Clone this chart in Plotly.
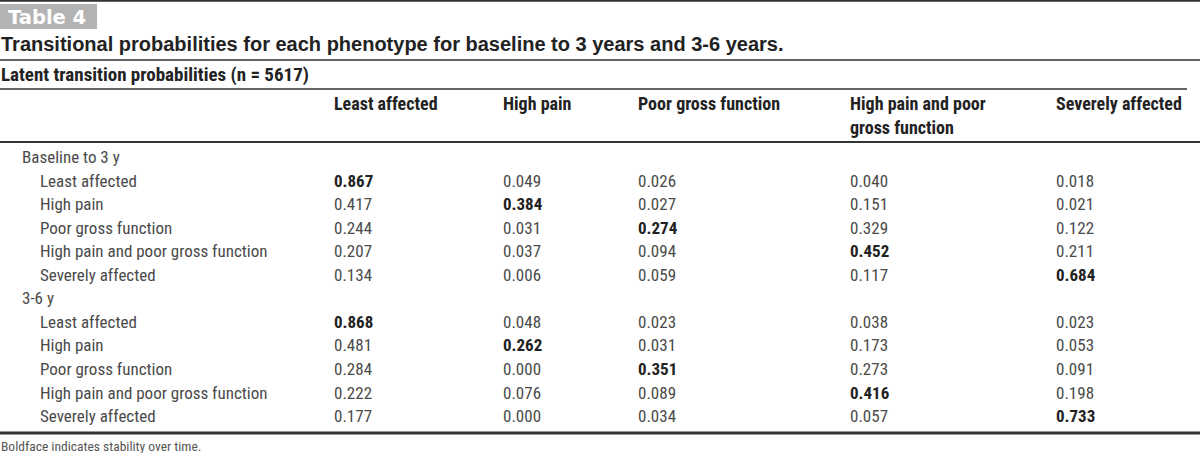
import plotly.graph_objects as go

# ---- data ----
columns = ["Least affected", "High pain", "Poor gross function",
           ["High pain and poor", "gross function"], "Severely affected"]
groups = ["Baseline to 3 y", "3-6 y"]
phenotypes = ["Least affected", "High pain", "Poor gross function",
              "High pain and poor gross function", "Severely affected"]
baseline_to_3y = [
    [0.867, 0.049, 0.026, 0.040, 0.018],
    [0.417, 0.384, 0.027, 0.151, 0.021],
    [0.244, 0.031, 0.274, 0.329, 0.122],
    [0.207, 0.037, 0.094, 0.452, 0.211],
    [0.134, 0.006, 0.059, 0.117, 0.684],
]
three_to_6y = [
    [0.868, 0.048, 0.023, 0.038, 0.023],
    [0.481, 0.262, 0.031, 0.173, 0.053],
    [0.284, 0.000, 0.351, 0.273, 0.091],
    [0.222, 0.076, 0.089, 0.416, 0.198],
    [0.177, 0.000, 0.034, 0.057, 0.733],
]
table_label = "Table 4"
title = "Transitional probabilities for each phenotype for baseline to 3 years and 3-6 years."
subtitle = "Latent transition probabilities (n = 5617)"
footnote = "Boldface indicates stability over time."

# ---- layout/style ----
W, H = 1200, 453
NARROW = "Liberation Sans Narrow, Arial Narrow, Roboto Condensed, DejaVu Sans Condensed, sans-serif"
WIDE = "DejaVu Sans, Liberation Sans, Arial, sans-serif"
HELV = "Liberation Sans, Arial, Helvetica, sans-serif"
BODY = "#4a4a4a"
DARK = "#222222"
col_x = [334, 503, 638, 850, 1056]

fig = go.Figure()
fig.add_trace(go.Scatter(x=[0, W], y=[0, H], mode="markers",
                         marker=dict(opacity=0), hoverinfo="skip", showlegend=False))

ann = []
def add(text, x, y, size, color=BODY, family=NARROW, bold=False, xshift=0):
    ann.append(dict(text=f"<b>{text}</b>" if bold else text, x=x, y=y,
                    xref="x", yref="y", xanchor="left", yanchor="middle",
                    xshift=xshift, showarrow=False,
                    font=dict(size=size, color=color, family=family)))

shapes = []
def hline(y, x0, x1, w, color="#333333"):
    shapes.append(dict(type="line", xref="x", yref="y", x0=x0, x1=x1, y0=y, y1=y,
                       line=dict(color=color, width=w)))

# table label box
shapes.append(dict(type="rect", xref="x", yref="y", x0=0, x1=97, y0=4, y1=29,
                   fillcolor="#b3b3b3", line=dict(width=0)))
add(table_label, 6, 17, 19.5, color="white", family=WIDE, bold=True)
add(title, 0, 44, 20, color=DARK, family=HELV, bold=True, xshift=-1)
add(subtitle, 0, 74, 19, color=DARK, bold=True, xshift=-1)

hline(0.8, 0, W, 2)
hline(60, 0, W, 1.6)
hline(89, 0, 1187, 1.6)
hline(142, 0, W, 2.2)
hline(433, 0, W, 3)

# headers
HS = 18
for c, x in zip(columns, col_x):
    if isinstance(c, list):
        add(c[0], x, 103, HS, color=DARK, bold=True, xshift=-2)
        add(c[1], x, 127, HS, color=DARK, bold=True, xshift=-2)
    else:
        add(c, x, 103, HS, color=DARK, bold=True, xshift=-2)

# body
BS = 17
row_h = 23.55
y0 = 157
k = 0
for g, mat in zip(groups, [baseline_to_3y, three_to_6y]):
    add(g, 22, y0 + row_h * k, BS, xshift=-2)
    k += 1
    for i, (p, vals) in enumerate(zip(phenotypes, mat)):
        y = y0 + row_h * k
        add(p, 40, y, BS, xshift=-2)
        for j, v in enumerate(vals):
            add(f"{v:.3f}", col_x[j], y, BS, color=DARK if i == j else BODY,
                bold=(i == j), xshift=-2)
        k += 1

add(footnote, 0, 446, 13.5, color="#555555", xshift=-1)

fig.update_layout(
    width=W, height=H, margin=dict(l=0, r=0, t=0, b=0),
    paper_bgcolor="white", plot_bgcolor="white",
    xaxis=dict(range=[0, W], visible=False, fixedrange=True),
    yaxis=dict(range=[H, 0], visible=False, fixedrange=True),
    annotations=ann, shapes=shapes, showlegend=False,
)
fig.write_html("out.html", config={"displayModeBar": False},
               post_script="document.body.style.margin='0px';")
